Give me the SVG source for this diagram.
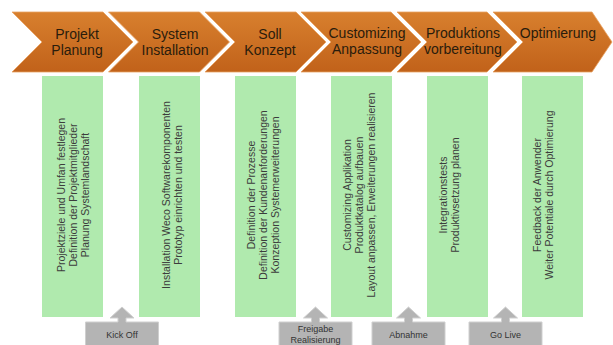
<svg xmlns="http://www.w3.org/2000/svg" width="613" height="345" viewBox="0 0 613 345">
<defs>
<linearGradient id="og" x1="0" y1="0" x2="0" y2="1">
<stop offset="0" stop-color="#d8802e"/>
<stop offset="1" stop-color="#c1621a"/>
</linearGradient>
<style>
.chev{fill:url(#og);stroke:#e9a262;stroke-width:0.8}
.ct{font-family:"Liberation Sans",Arial,sans-serif;font-size:14px;fill:#2a1c0c;text-anchor:middle}
.col{fill:#b0eaae}
.vt{font-family:"Liberation Sans",Arial,sans-serif;font-size:10.5px;fill:#3c3c3c;text-anchor:middle}
.ms{fill:#b4b4b4;stroke:#cfcfcf;stroke-width:1}
.mt{font-family:"Liberation Sans",Arial,sans-serif;font-size:9px;fill:#333;text-anchor:middle}
</style>
</defs>
<rect width="613" height="345" fill="#ffffff"/>

<g id="phase1">
<path class="chev" d="M12,12 L103,12 L133,42 L103,72 L12,72 L42,42 Z"/>
<text class="ct" x="77" y="38.5">Projekt</text>
<text class="ct" x="77" y="54.5">Planung</text>
</g>
<g id="phase2">
<path class="chev" d="M108.5,12 L199.5,12 L229.5,42 L199.5,72 L108.5,72 L138.5,42 Z"/>
<text class="ct" x="175" y="38.5">System</text>
<text class="ct" x="175" y="54.5">Installation</text>
</g>
<g id="phase3">
<path class="chev" d="M205,12 L296,12 L326,42 L296,72 L205,72 L235,42 Z"/>
<text class="ct" x="270" y="38.5">Soll</text>
<text class="ct" x="270" y="54.5">Konzept</text>
</g>
<g id="phase4">
<path class="chev" d="M301,12 L391,12 L421,42 L391,72 L301,72 L331,42 Z"/>
<text class="ct" x="367" y="37.5">Customizing</text>
<text class="ct" x="367" y="53.5">Anpassung</text>
</g>
<g id="phase5">
<path class="chev" d="M397,12 L487,12 L517,42 L487,72 L397,72 L427,42 Z"/>
<text class="ct" x="463" y="37.5">Produktions</text>
<text class="ct" x="463" y="53.5">vorbereitung</text>
</g>
<g id="phase6">
<path class="chev" d="M493,12 L592,12 L612,42 L592,72 L493,72 L523,42 Z"/>
<text class="ct" x="558" y="37.5">Optimierung</text>
</g>

<g id="col1">
<rect class="col" x="42" y="76" width="61" height="241"/>
<text class="vt" transform="translate(64.5,195) rotate(-90)">Projektziele und Umfan festlegen</text>
<text class="vt" transform="translate(76.5,195) rotate(-90)">Definition der Projektmitglieder</text>
<text class="vt" transform="translate(88.5,195) rotate(-90)">Planung Systemlandschaft</text>
</g>
<g id="col2">
<rect class="col" x="139" y="76" width="61" height="241"/>
<text class="vt" transform="translate(169.5,195) rotate(-90)">Installation Weco Softwarekomponenten</text>
<text class="vt" transform="translate(181.5,195) rotate(-90)">Prototyp einrichten und testen</text>
</g>
<g id="col3">
<rect class="col" x="235" y="76" width="61" height="241"/>
<text class="vt" transform="translate(254.5,195) rotate(-90)">Definition der Prozesse</text>
<text class="vt" transform="translate(266.5,195) rotate(-90)">Definition der Kundenanforderungen</text>
<text class="vt" transform="translate(278.5,195) rotate(-90)">Konzeption Systemerweiterungen</text>
</g>
<g id="col4">
<rect class="col" x="331" y="76" width="61" height="241"/>
<text class="vt" transform="translate(351,195) rotate(-90)">Customizing Applikation</text>
<text class="vt" transform="translate(363,195) rotate(-90)">Produktkatalog aufbauen</text>
<text class="vt" transform="translate(375,195) rotate(-90)">Layout anpassen, Erweiterungen realisieren</text>
</g>
<g id="col5">
<rect class="col" x="427" y="76" width="61" height="241"/>
<text class="vt" transform="translate(446.5,195) rotate(-90)">Integrationstests</text>
<text class="vt" transform="translate(458.5,195) rotate(-90)">Produktivsetzung planen</text>
</g>
<g id="col6">
<rect class="col" x="522" y="76" width="61" height="241"/>
<text class="vt" transform="translate(541,195) rotate(-90)">Feedback der Anwender</text>
<text class="vt" transform="translate(553,195) rotate(-90)">Weiter Potentiale durch Optimierung</text>
</g>

<g id="ms-kickoff">
<path class="ms" d="M85.5,346 L85.5,322 L118,322 L118,318 L110,318 L122,307 L134,318 L126,318 L126,322 L158.5,322 L158.5,346 Z"/>
<text class="mt" x="122" y="338">Kick Off</text>
</g>
<g id="ms-freigabe">
<path class="ms" d="M279,346 L279,322 L311.5,322 L311.5,318 L303.5,318 L315.5,307 L327.5,318 L319.5,318 L319.5,322 L352,322 L352,346 Z"/>
<text class="mt" x="315.5" y="332">Freigabe</text>
<text class="mt" x="315.5" y="343">Realisierung</text>
</g>
<g id="ms-abnahme">
<path class="ms" d="M372,346 L372,322 L404.5,322 L404.5,318 L396.5,318 L408.5,307 L420.5,318 L412.5,318 L412.5,322 L445,322 L445,346 Z"/>
<text class="mt" x="408.5" y="338">Abnahme</text>
</g>
<g id="ms-golive">
<path class="ms" d="M469,346 L469,322 L501.5,322 L501.5,318 L493.5,318 L505.5,307 L517.5,318 L509.5,318 L509.5,322 L542,322 L542,346 Z"/>
<text class="mt" x="505.5" y="338">Go Live</text>
</g>
<g id="connectors"></g>
</svg>
